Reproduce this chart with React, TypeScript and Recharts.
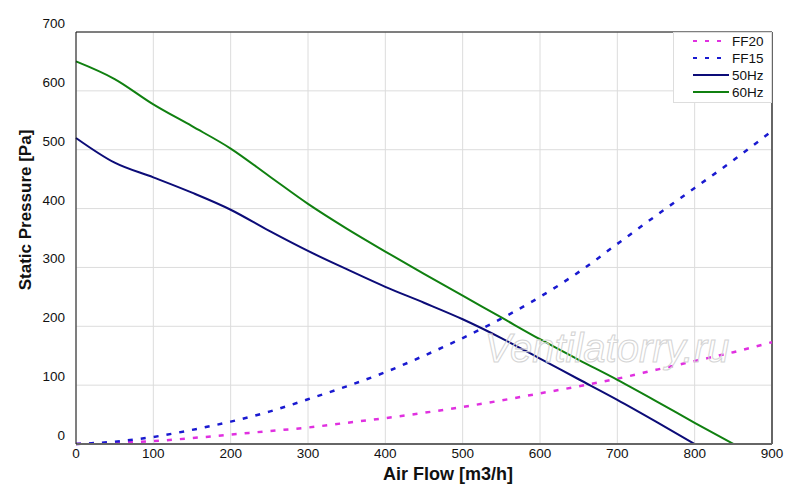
import { LineChart, Line, XAxis, YAxis, CartesianGrid, ReferenceLine } from "recharts";

const flowSystem = [0, 50, 100, 150, 200, 250, 300, 350, 400, 450, 500, 550, 600, 650, 700, 750, 800, 850, 900];
const ff20 = [0, 2, 5, 10, 16, 22, 28, 36, 44, 53, 63, 74, 86, 98, 111, 126, 141, 156, 173];
const ff15 = [0, 4, 12, 24, 38, 55, 76, 98, 122, 150, 180, 213, 250, 292, 340, 388, 435, 482, 532];

const flow50 = [0, 50, 100, 150, 200, 250, 300, 350, 400, 450, 500, 550, 600, 650, 700, 750, 800];
const hz50 = [520, 478, 453, 427, 398, 362, 328, 297, 267, 240, 212, 180, 145, 110, 75, 38, 0];

const flow60 = [0, 50, 100, 150, 200, 250, 300, 350, 400, 450, 500, 550, 600, 650, 700, 750, 800, 850];
const hz60 = [650, 620, 577, 540, 502, 455, 408, 366, 327, 289, 252, 215, 178, 143, 109, 73, 36, 0];

const xTicks = [0, 100, 200, 300, 400, 500, 600, 700, 800, 900];
const yTicks = [0, 100, 200, 300, 400, 500, 600, 700];

const toPoints = (xs: number[], ys: number[]) => xs.map((q, i) => ({ q, p: ys[i] }));

const series = [
  { name: "FF20", color: "#e030e0", dashed: true, data: toPoints(flowSystem, ff20) },
  { name: "FF15", color: "#1a1ad0", dashed: true, data: toPoints(flowSystem, ff15) },
  { name: "50Hz", color: "#0c0c78", dashed: false, data: toPoints(flow50, hz50) },
  { name: "60Hz", color: "#108010", dashed: false, data: toPoints(flow60, hz60) },
];

const font = "'Liberation Sans', Arial, sans-serif";

const XTick = (props: any) => (
  <text x={props.x} y={props.y + 6} textAnchor="middle" fontSize={13.5} fontFamily={font} fill="#111">
    {props.payload.value}
  </text>
);

const YTick = (props: any) => (
  <text x={props.x - 3} y={props.y - 4} textAnchor="end" fontSize={13.5} fontFamily={font} fill="#111">
    {props.payload.value}
  </text>
);

export default function App() {
  return (
    <div style={{ position: "absolute", left: 0, top: 0, width: 800, height: 501, background: "#fff" }}>
      <LineChart width={800} height={501} margin={{ top: 32, right: 28, bottom: 35, left: 0 }}>
        <CartesianGrid stroke="#dcdcdc" strokeWidth={1} />
        <XAxis
          type="number"
          dataKey="q"
          domain={[0, 900]}
          ticks={xTicks}
          height={22}
          allowDuplicatedCategory={false}
          tick={<XTick />}
          tickLine={false}
          axisLine={{ stroke: "#666", strokeWidth: 2 }}
          label={{
            content: () => (
              <text x={448} y={480} textAnchor="middle" fontSize={18} fontWeight="bold" fontFamily={font} fill="#111">
                Air Flow [m3/h]
              </text>
            ),
          }}
        />
        <YAxis
          type="number"
          dataKey="p"
          domain={[0, 700]}
          ticks={yTicks}
          width={76}
          tick={<YTick />}
          tickLine={false}
          axisLine={{ stroke: "#111", strokeWidth: 1 }}
          label={{
            content: () => (
              <text
                x={31}
                y={210}
                transform="rotate(-90 31 210)"
                textAnchor="middle"
                fontSize={17}
                fontWeight="bold"
                fontFamily={font}
                fill="#111"
              >
                Static Pressure [Pa]
              </text>
            ),
          }}
        />
        <ReferenceLine y={700} stroke="#111" strokeWidth={1} />
        <ReferenceLine x={900} stroke="#666" strokeWidth={2} />
        {series.map((s) => (
          <Line
            key={s.name}
            data={s.data}
            dataKey="p"
            name={s.name}
            type="monotone"
            stroke={s.color}
            strokeWidth={s.dashed ? 2.5 : 2}
            strokeDasharray={s.dashed ? "5 8" : undefined}
            dot={false}
            activeDot={false}
            isAnimationActive={false}
          />
        ))}
      </LineChart>
      <svg width={800} height={501} style={{ position: "absolute", left: 0, top: 0, pointerEvents: "none" }}>
        <text
          x={607}
          y={362}
          textAnchor="middle"
          fontSize={40}
          fontStyle="italic"
          fontFamily={font}
          fill="none"
          stroke="#d4d4d4"
          strokeWidth={1}
        >
          Ventilatorry.ru
        </text>
        <g transform="translate(673 32)">
          <rect x={0.5} y={0.5} width={98} height={70} fill="#fff" stroke="#ddd" />
          {series.map((s, i) => (
            <g key={s.name}>
              <line
                x1={20}
                x2={56}
                y1={9 + i * 17}
                y2={9 + i * 17}
                stroke={s.color}
                strokeWidth={2}
                strokeDasharray={s.dashed ? "4 8" : undefined}
              />
              <text x={59} y={14 + i * 17} fontSize={13.5} fontFamily={font} fill="#111">
                {s.name}
              </text>
            </g>
          ))}
        </g>
      </svg>
    </div>
  );
}
